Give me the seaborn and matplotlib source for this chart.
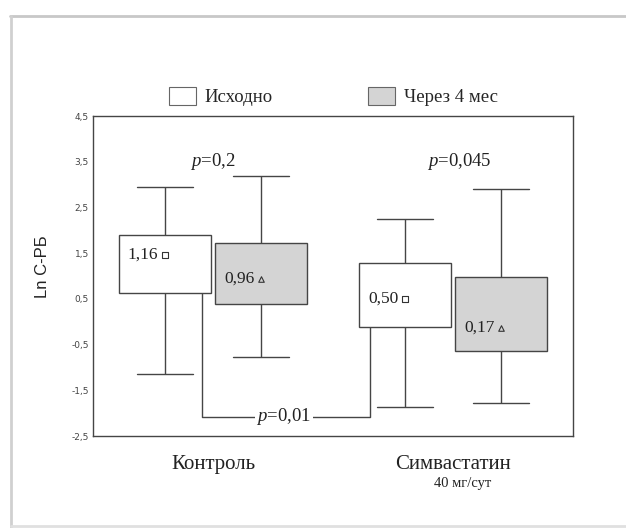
import pandas as pd
import matplotlib.pyplot as plt
import matplotlib.patches as mpatches
from matplotlib.lines import Line2D
import seaborn as sns

# groups and periods
groups = ["Контроль", "Симвастатин"]
periods = ["Исходно", "Через 4 мес"]

# one value per box, order: Контроль/Исходно, Контроль/Через 4 мес,
# Симвастатин/Исходно, Симвастатин/Через 4 мес
box_group = ["Контроль", "Контроль", "Симвастатин", "Симвастатин"]
box_period = ["Исходно", "Через 4 мес", "Исходно", "Через 4 мес"]
whisker_low = [-1.14, -0.77, -1.87, -1.78]
box_low = [0.63, 0.39, -0.11, -0.64]
box_high = [1.90, 1.72, 1.29, 0.98]
whisker_high = [2.95, 3.19, 2.25, 2.90]
mean_marker_y = [1.46, 0.94, 0.50, -0.14]
mean_labels = ["1,16", "0,96", "0,50", "0,17"]

p_within = ["$p$=0,2", "$p$=0,045"]
p_between = "$p$=0,01"
bracket_y = -2.08
y_ticks = [-2.5, -1.5, -0.5, 0.5, 1.5, 2.5, 3.5, 4.5]

GRAY = "#d4d4d4"
EDGE = "#454545"
palette = {"Исходно": "white", "Через 4 мес": GRAY}

sns.set_style("white")
plt.rcParams["font.family"] = ["Liberation Serif", "DejaVu Serif"]
plt.rcParams["mathtext.fontset"] = "custom"
plt.rcParams["mathtext.it"] = "Liberation Serif:italic"
plt.rcParams["mathtext.rm"] = "Liberation Serif"


def build_frames():
    """Five points per box so that quartiles and extremes match the picture."""
    rows = []
    for i in range(len(box_group)):
        for v in (whisker_low[i], box_low[i], mean_marker_y[i], box_high[i], whisker_high[i]):
            rows.append({"group": box_group[i], "period": box_period[i], "value": v})
    means = pd.DataFrame({"group": box_group, "period": box_period, "value": mean_marker_y})
    return pd.DataFrame(rows), means


df, means = build_frames()

fig = plt.figure(figsize=(6.26, 5.28), dpi=100)
ax = fig.add_axes([0.1486, 0.1742, 0.7668, 0.6061])

sns.boxplot(data=df, x="group", y="value", hue="period", order=groups,
            hue_order=periods, palette=palette, width=0.8, gap=0.05,
            whis=(0, 100), linecolor=EDGE, linewidth=1.0, showfliers=False,
            medianprops={"linewidth": 0}, capwidths=0.234, legend=False, ax=ax)

# mean markers
for period, marker in zip(periods, ["s", "^"]):
    sub = means[means["period"] == period]
    sns.stripplot(data=sub, x="group", y="value", hue="period", order=groups,
                  hue_order=periods, palette=palette, dodge=True, jitter=False,
                  marker=marker, size=4, edgecolor="#333333", linewidth=0.8,
                  legend=False, ax=ax)

# mean labels next to the markers
for i in range(len(box_group)):
    gx = groups.index(box_group[i])
    off = -0.2 if box_period[i] == periods[0] else 0.2
    ax.text(gx + off - 0.028, mean_marker_y[i], mean_labels[i], ha="right",
            va="center", fontsize=12.5, color="#222222")

# p-values inside groups
for gx, txt in zip([0.0, 1.025], p_within):
    ax.text(gx, 3.5, txt, ha="center", va="center", fontsize=13.5, color="#222222")

# bracket between Контроль and Симвастатин baseline
x_left, x_right = -0.044, 0.653
ax.plot([x_left, x_left, x_right, x_right],
        [box_low[0], bracket_y, bracket_y, box_low[2]],
        color=EDGE, lw=1.0, zorder=1)
ax.text(0.295, bracket_y, p_between, ha="center", va="center", fontsize=13.5,
        color="#222222", bbox=dict(facecolor="white", edgecolor="none", pad=1))

ax.set_xlim(-0.5, 1.5)
ax.set_ylim(-2.5, 4.5)
ax.set_yticks(y_ticks)
ax.set_yticklabels([f"{v:.1f}".replace(".", ",") for v in y_ticks],
                   family="DejaVu Sans", fontsize=6.5, color="#444444")
ax.tick_params(axis="y", length=2, width=0.8, pad=1, color=EDGE)
ax.set_xticks([0, 1])
ax.set_xticklabels(groups, fontsize=15, color="#222222")
ax.tick_params(axis="x", length=0, pad=14)
ax.set_xlabel("")
ax.set_ylabel("Ln С-РБ", family="Liberation Sans", fontsize=12,
              color="#222222")
ax.yaxis.set_label_coords(-0.09, 0.53)
for s in ax.spines.values():
    s.set_color(EDGE)
    s.set_linewidth(1.0)

ax.text(1.04, -0.148, "40 мг/сут", transform=ax.get_xaxis_transform(),
        ha="center", va="center", fontsize=10.5, color="#222222")

# legend above the plot
handles = [mpatches.Patch(facecolor=palette[p], edgecolor="#666666", lw=0.8, label=p)
           for p in periods]
ax.legend(handles=handles, loc="center", bbox_to_anchor=(0.5, 1.06), ncol=2,
          frameon=False, fontsize=13.5, handlelength=1.45, handleheight=1.1,
          handletextpad=0.45, columnspacing=5.1)

# scanned page border
fig.add_artist(Line2D([0.016, 1.0], [0.969, 0.969], color="#c8c8c8", lw=2))
fig.add_artist(Line2D([0.018, 0.018], [0.0, 0.969], color="#d0d0d0", lw=2))
fig.add_artist(Line2D([0.018, 1.0], [0.003, 0.003], color="#e0e0e0", lw=2))

fig.savefig("out.png", dpi=100)
